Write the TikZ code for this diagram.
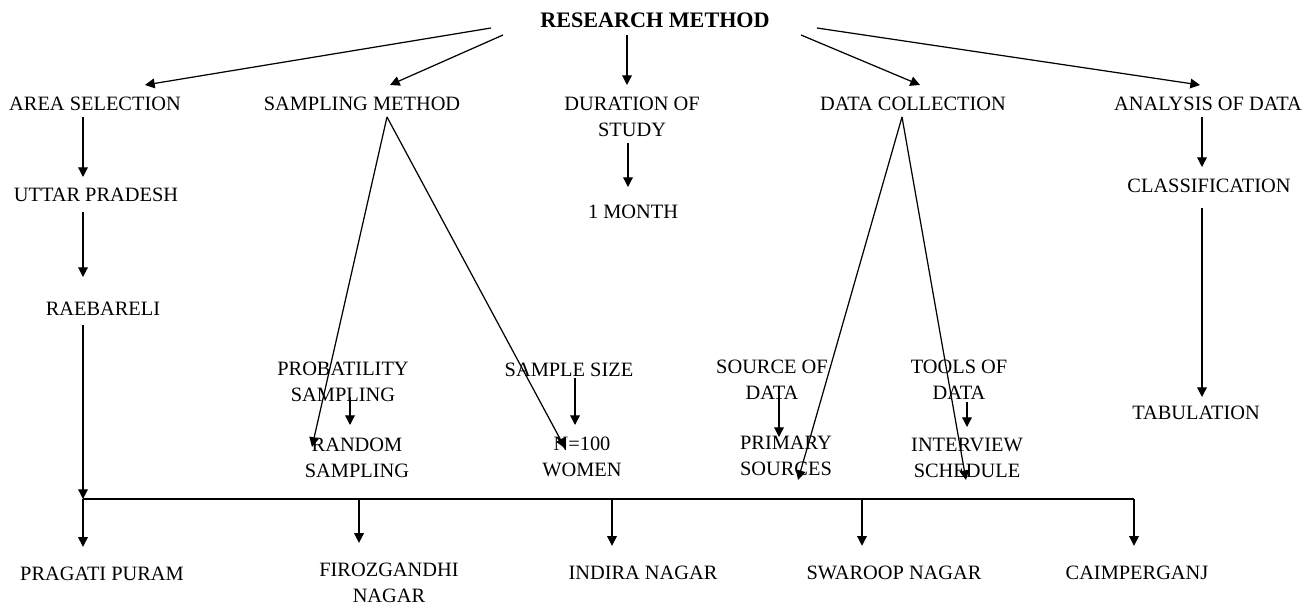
\documentclass[tikz,border=0pt]{standalone}
\usepackage{fontspec}
\setmainfont{Liberation Serif}
\usetikzlibrary{calc, arrows.meta}

\begin{document}
\begin{tikzpicture}[x=0.02cm, y=-0.02cm,
        box/.style={inner sep=0pt, align=center, font=\fontsize{11.6}{14.7}\selectfont},
        arr/.style={-{Triangle[length=5.5pt, width=5.5pt]}, line width=0.7pt}]
    \useasboundingbox (0,0) rectangle (1308,605);

        % Top level
        \node[box, font=\fontsize{12.6}{15}\selectfont\bfseries] (rm) at (655,20) {RESEARCH METHOD};
        \node[box] (area) at (95,104) {AREA SELECTION};
        \node[box] (samp) at (362,104) {SAMPLING METHOD};
        \node[box] (dur) at (632,117) {DURATION OF\\STUDY};
        \node[box] (coll) at (913,104) {DATA COLLECTION};
        \node[box] (anal) at (1208,104) {ANALYSIS OF DATA};

        % Second level
        \node[box] (up) at (96,195) {UTTAR PRADESH};
        \node[box] (rae) at (103,309) {RAEBARELI};
        \node[box] (month) at (633,212) {1 MONTH};
        \node[box] (class) at (1209,186) {CLASSIFICATION};
        \node[box] (tab) at (1196,413) {TABULATION};
        \node[box] (prob) at (343,382) {PROBATILITY\\SAMPLING};
        \node[box] (rand) at (357,458) {RANDOM\\SAMPLING};
        \node[box] (size) at (569,370) {SAMPLE SIZE};
        \node[box] (women) at (582,457) {N=100\\WOMEN};
        \node[box] (src) at (772,380) {SOURCE OF\\DATA};
        \node[box] (prim) at (786,456) {PRIMARY\\SOURCES};
        \node[box] (tools) at (959,380) {TOOLS OF\\DATA};
        \node[box] (inter) at (967,458) {INTERVIEW\\SCHEDULE};

        % Areas
        \node[box] (prag) at (102,574) {PRAGATI PURAM};
        \node[box] (firo) at (389,583) {FIROZGANDHI\\NAGAR};
        \node[box] (indira) at (643,573) {INDIRA NAGAR};
        \node[box] (swar) at (894,573) {SWAROOP NAGAR};
        \node[box] (caim) at (1137,573) {CAIMPERGANJ};

        % Arrows from the top
        \draw[arr] ($(rm)+(-164,8)$) -- ($(area)+(50,-19)$);
        \draw[arr] ($(rm)+(-152,15)$) -- ($(samp)+(28,-19)$);
        \draw[arr] ($(rm)+(-28,15)$) -- ($(dur)+(-5,-32)$);
        \draw[arr] ($(rm)+(146,15)$) -- ($(coll)+(7,-19)$);
        \draw[arr] ($(rm)+(162,8)$) -- ($(anal)+(-8,-19)$);

        % Columns
        \draw[arr] ($(area)+(-12,13)$) -- ($(up)+(-13,-18)$);
        \draw[arr] ($(up)+(-13,17)$) -- ($(rae)+(-20,-32)$);
        \draw[arr] ($(dur)+(-4,26)$) -- ($(month)+(-5,-25)$);
        \draw[arr] ($(anal)+(-6,13)$) -- ($(class)+(-7,-19)$);
        \draw[arr] ($(class)+(-7,22)$) -- ($(tab)+(6,-16)$);

        % Sampling and data collection
        \draw[arr] ($(samp)+(25,13)$) -- ($(rand)+(-45,-11)$);
        \draw[arr] ($(samp)+(25,13)$) -- ($(women)+(-17,-9)$);
        \draw[arr] ($(prob)+(7,15)$) -- ($(rand)+(-7,-33)$);
        \draw[arr] ($(size)+(6,8)$) -- ($(women)+(-7,-32)$);
        \draw[arr] ($(coll)+(-11,13)$) -- ($(prim)+(12,24)$);
        \draw[arr] ($(coll)+(-11,13)$) -- ($(inter)+(-1,22)$);
        \draw[arr] ($(src)+(7,15)$) -- ($(prim)+(-7,-19)$);
        \draw[arr] ($(tools)+(8,22)$) -- ($(inter)+(0,-31)$);

        % Bus to the areas
        \coordinate (bus) at (83,499);
        \coordinate (busend) at (1134,499);
        \draw[arr] ($(rae)+(-20,16)$) -- (bus);
        \draw[line width=0.7pt] (bus) -- (busend);
        \foreach \name/\dx in {prag/-19, firo/-30, indira/-31, swar/-32, caim/-3} {
            \coordinate (d) at ($(\name.north)+(\dx,-20)$);
            \draw[arr] (d |- bus) -- (d);
        }
    \end{tikzpicture}
\end{document}
